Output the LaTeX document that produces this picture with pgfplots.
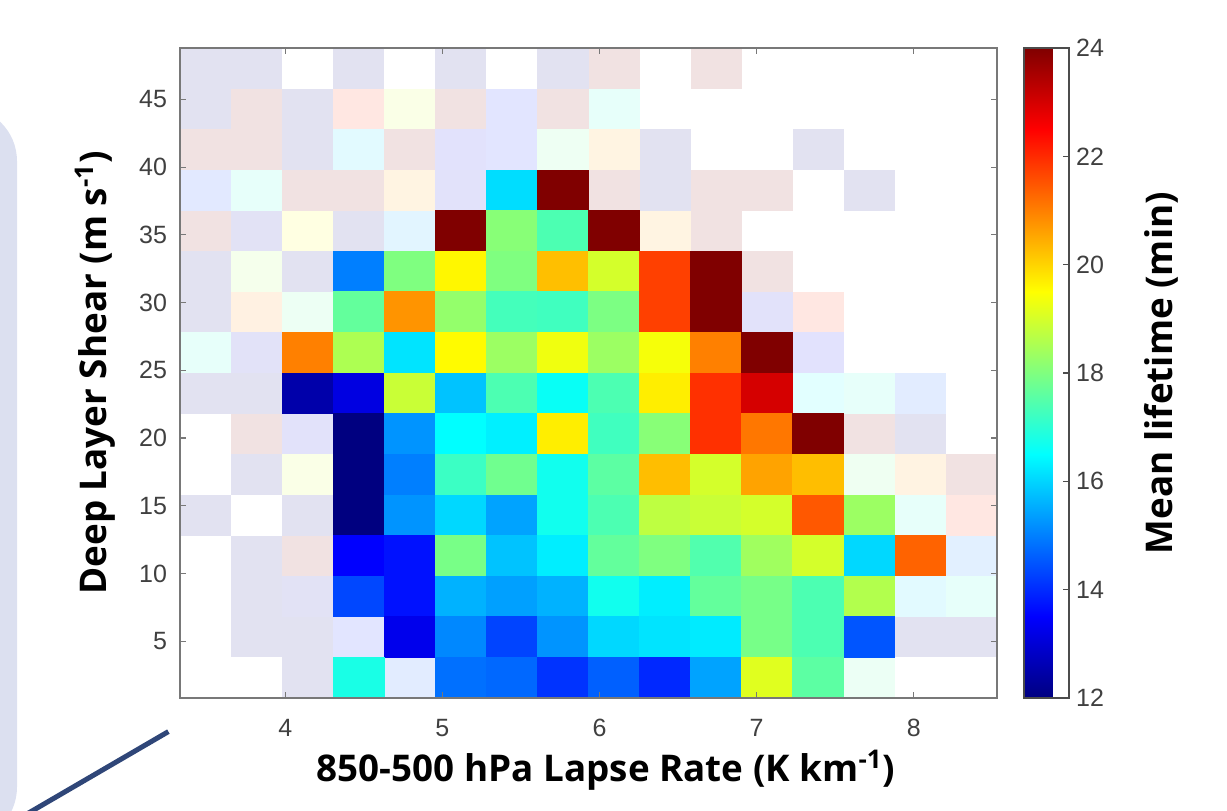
\documentclass[border=0pt]{standalone}
\usepackage{pgfplots}
\pgfplotsset{compat=1.18}
\usepackage{pgfplotstable}
\usepackage{fontspec}
\setmainfont{Liberation Sans}
\newfontfamily\labfont{Open Sans}
\definecolor{axgray}{RGB}{120,120,120}
\definecolor{tickgray}{RGB}{64,64,64}
\definecolor{panel}{RGB}{220,224,240}
\definecolor{slate}{RGB}{47,70,120}
\pgfdeclareplotmark{cell}{\pgfpathrectangle{\pgfqpoint{-12.9pt}{-10.3pt}}{\pgfqpoint{25.8pt}{20.6pt}}\pgfusepathqfill}
\pgfdeclareplotmark{pcell}{\pgfpathrectangle{\pgfqpoint{-12.7656pt}{-10.1562pt}}{\pgfqpoint{25.5312pt}{20.3125pt}}\pgfusepathqfill}

% faint (low-count) cells: x y mean lifetime
\pgfplotstableread{
x y v
3.4925 47.3 12
3.8175 47.3 12
4.4675 47.3 12
5.1175 47.3 12
5.7675 47.3 12
6.0925 47.3 24
6.7425 47.3 24
3.4925 44.3 12
3.8175 44.3 24
4.1425 44.3 12
4.4675 44.3 22
4.7925 44.3 19
5.1175 44.3 24
5.4425 44.3 13.8
5.7675 44.3 24
6.0925 44.3 17
3.4925 41.3 24
3.8175 41.3 24
4.1425 41.3 12
4.4675 41.3 16
4.7925 41.3 24
5.1175 41.3 13.2
5.4425 41.3 13.8
5.7675 41.3 17.7
6.0925 41.3 20.6
6.4175 41.3 12
7.3925 41.3 12
3.4925 38.3 14.2
3.8175 38.3 17
4.1425 38.3 24
4.4675 38.3 24
4.7925 38.3 20.6
5.1175 38.3 13
6.0925 38.3 24
6.4175 38.3 12
6.7425 38.3 24
7.0675 38.3 24
7.7175 38.3 12
3.4925 35.3 24
3.8175 35.3 12.5
4.1425 35.3 19.5
4.4675 35.3 12
4.7925 35.3 15.5
6.4175 35.3 20.6
6.7425 35.3 24
3.4925 32.3 12
3.8175 32.3 18.5
4.1425 32.3 12
7.0675 32.3 24
3.4925 29.3 12
3.8175 29.3 21
4.1425 29.3 17.6
7.0675 29.3 13
7.3925 29.3 22
3.4925 26.3 17
3.8175 26.3 12.8
7.3925 26.3 13.3
3.4925 23.3 12
3.8175 23.3 12
7.3925 23.3 16.5
7.7175 23.3 17
8.0425 23.3 14.5
3.8175 20.3 24
4.1425 20.3 13
7.7175 20.3 24
8.0425 20.3 12
3.8175 17.3 12
4.1425 17.3 19
7.7175 17.3 17.8
8.0425 17.3 20.7
8.3675 17.3 24
3.4925 14.3 12
4.1425 14.3 12
8.0425 14.3 17
8.3675 14.3 22
3.8175 11.3 12
4.1425 11.3 24
8.3675 11.3 15
3.8175 8.3 12
4.1425 8.3 12.5
8.0425 8.3 16
8.3675 8.3 17
3.8175 5.3 12
4.1425 5.3 12
4.4675 5.3 13.8
8.0425 5.3 12
8.3675 5.3 12
4.1425 2.3 12
4.7925 2.3 14.5
7.7175 2.3 17.5
}\faint

% main cells: x y mean lifetime
\pgfplotstableread{
x y v
5.4425 38.3 16.1
5.7675 38.3 24
5.1175 35.3 24
5.4425 35.3 18.1
5.7675 35.3 17.4
6.0925 35.3 24
4.4675 32.3 15.0
4.7925 32.3 18.0
5.1175 32.3 19.6
5.4425 32.3 18.0
5.7675 32.3 20.25
6.0925 32.3 19.0
6.4175 32.3 21.75
6.7425 32.3 24
4.4675 29.3 17.67
4.7925 29.3 20.76
5.1175 29.3 18.24
5.4425 29.3 17.3
5.7675 29.3 17.25
6.0925 29.3 17.96
6.4175 29.3 21.75
6.7425 29.3 24
4.1425 26.3 21.0
4.4675 26.3 18.53
4.7925 26.3 16.18
5.1175 26.3 19.55
5.4425 26.3 18.33
5.7675 26.3 19.32
6.0925 26.3 18.33
6.4175 26.3 19.4
6.7425 26.3 21.0
7.0675 26.3 24
4.1425 23.3 12.5
4.4675 23.3 13.14
4.7925 23.3 18.86
5.1175 23.3 15.8
5.4425 23.3 17.4
5.7675 23.3 16.6
6.0925 23.3 17.4
6.4175 23.3 19.7
6.7425 23.3 21.93
7.0675 23.3 23.0
4.4675 20.3 12
4.7925 20.3 15.24
5.1175 20.3 16.5
5.4425 20.3 16.32
5.7675 20.3 19.7
6.0925 20.3 17.25
6.4175 20.3 18.1
6.7425 20.3 21.93
7.0675 20.3 21.1
7.3925 20.3 24
4.4675 17.3 12
4.7925 17.3 15.0
5.1175 17.3 17.2
5.4425 17.3 17.82
5.7675 17.3 16.7
6.0925 17.3 17.58
6.4175 17.3 20.27
6.7425 17.3 19.0
7.0675 17.3 20.58
7.3925 17.3 20.27
4.4675 14.3 12
4.7925 14.3 15.24
5.1175 14.3 16.04
5.4425 14.3 15.42
5.7675 14.3 16.7
6.0925 14.3 17.4
6.4175 14.3 18.74
6.7425 14.3 18.86
7.0675 14.3 19.0
7.3925 14.3 21.47
7.7175 14.3 18.33
4.4675 11.3 13.5
4.7925 11.3 13.7
5.1175 11.3 17.91
5.4425 11.3 15.8
5.7675 11.3 16.3
6.0925 11.3 17.67
6.4175 11.3 18.0
6.7425 11.3 17.45
7.0675 11.3 18.38
7.3925 11.3 19.0
7.7175 11.3 16.04
8.0425 11.3 21.33
4.4675 8.3 14.34
4.7925 8.3 13.7
5.1175 8.3 15.6
5.4425 8.3 15.38
5.7675 8.3 15.6
6.0925 8.3 16.7
6.4175 8.3 16.3
6.7425 8.3 17.67
7.0675 8.3 17.9
7.3925 8.3 17.4
7.7175 8.3 18.6
4.7925 5.3 13.28
5.1175 5.3 15.1
5.4425 5.3 14.3
5.7675 5.3 15.24
6.0925 5.3 16.04
6.4175 5.3 16.18
6.7425 5.3 16.26
7.0675 5.3 17.9
7.3925 5.3 17.4
7.7175 5.3 14.5
4.4675 2.3 16.8
5.1175 2.3 14.82
5.4425 2.3 14.72
5.7675 2.3 14.1
6.0925 2.3 14.63
6.4175 2.3 13.97
6.7425 2.3 15.42
7.0675 2.3 19.14
7.3925 2.3 17.58
}\main

\begin{document}
\begin{tikzpicture}
\useasboundingbox (0,0) rectangle (613.5pt,405pt);
\fill[panel, rounded corners=27pt] (-40pt,-15.6pt) rectangle (8.5pt,351.5pt);
\draw[slate, line width=2.5pt] (84.2pt,39.2pt) -- (10pt,-4pt);
\begin{axis}[
  at={(90pt,56pt)}, anchor=south west,
  scale only axis, width=408.5pt, height=325pt,
  xmin=3.33, xmax=8.53, ymin=0.8, ymax=48.8,
  xtick={4,5,6,7,8}, ytick={5,10,...,45},
  tick align=inside, major tick length=3pt,
  xtick pos=both, ytick pos=both,
  axis on top, clip marker paths=true,
  axis line style={axgray, line width=0.6pt},
  tick style={axgray, line width=0.6pt},
  tick label style={font=\fontsize{12.5}{12.5}\selectfont, text=tickgray},
  xticklabel style={yshift=-7pt},
  yticklabel style={xshift=-3pt},
  /pgf/number format/assume math mode=true,
  colormap/jet, point meta min=12, point meta max=24,
  every axis x label/.style={at={(axis description cs:0.5214,-0.1108)}, anchor=center},
  every axis y label/.style={at={(axis description cs:-0.104,0.5)}, rotate=90, anchor=center},
  label style={font=\labfont\bfseries\fontsize{18.4}{21}\selectfont, text=black},
  xlabel={850-500 hPa Lapse Rate (K km\textsuperscript{-1})},
  ylabel={Deep Layer Shear (m s\textsuperscript{-1})},
  colorbar,
  colorbar style={
    at={(parent axis.north east)}, anchor=north west, xshift=5pt,
    scale only axis, width=22.5pt, height=325pt,
    ytick={12,14,...,24}, ytick pos=right, yticklabel pos=right,
    tick align=inside, major tick length=3pt,
    axis line style={black!70, line width=0.6pt},
    tick style={black!70, line width=0.6pt},
    yticklabel style={font=\fontsize{12.5}{12.5}\selectfont, text=tickgray},
    /pgf/number format/assume math mode=true,
    every axis y label/.style={at={(axis description cs:3.05,0.5)}, rotate=90, anchor=center},
    ylabel style={font=\labfont\bfseries\fontsize{18.4}{21}\selectfont, text=black},
    ylabel={Mean lifetime (min)},
  },
]
\addplot[scatter, only marks, mark=pcell, fill opacity=0.115,
  mark options={fill opacity=0.115, draw opacity=0}, point meta=explicit]
  table[x=x, y=y, meta=v] {\faint};
\addplot[scatter, only marks, mark=cell, point meta=explicit]
  table[x=x, y=y, meta=v] {\main};
\end{axis}
\end{tikzpicture}
\end{document}
